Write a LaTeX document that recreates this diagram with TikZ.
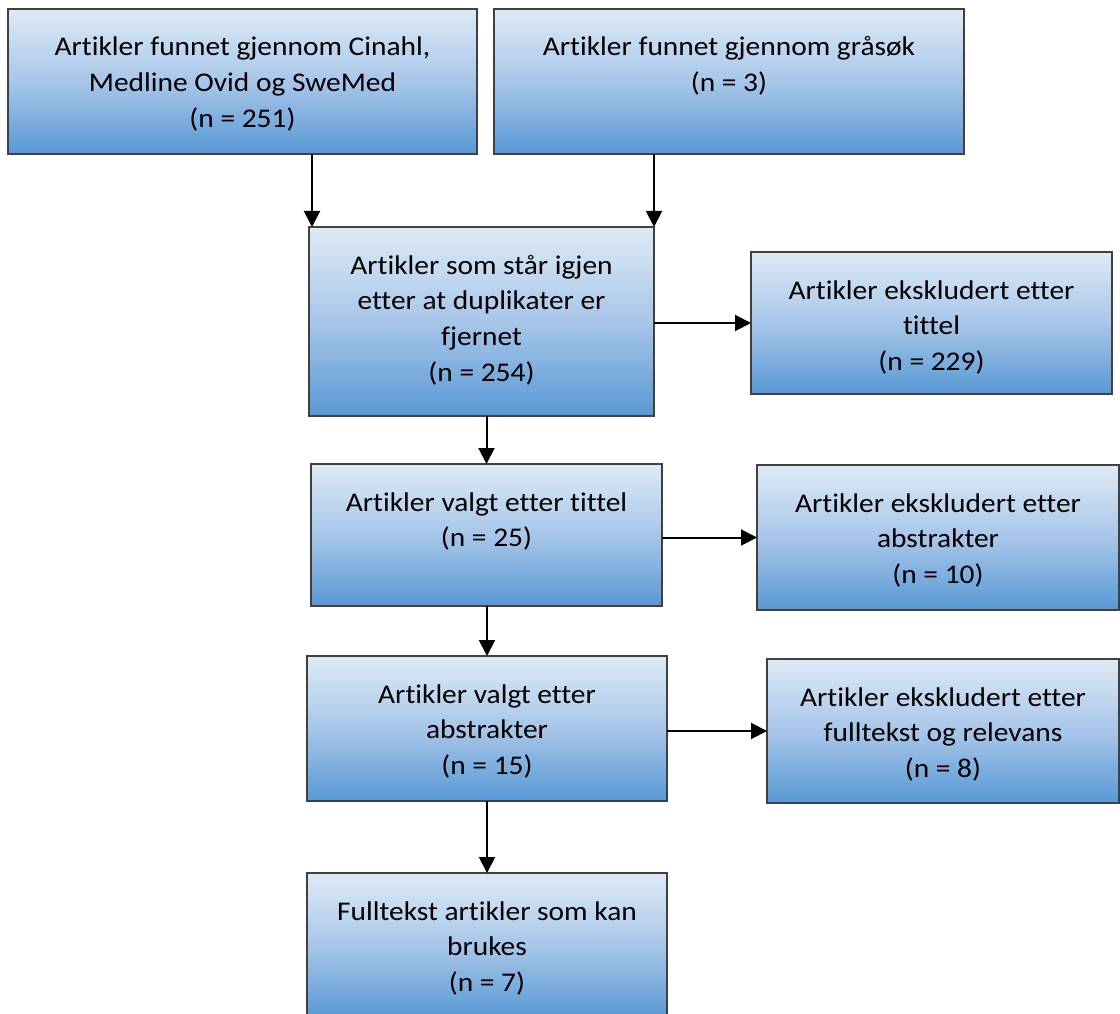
\documentclass[tikz,border=0pt]{standalone}
\usepackage{fontspec}
\setmainfont{Carlito}[Ligatures=NoCommon, FakeStretch=1.09]
\usetikzlibrary{arrows.meta}
\definecolor{boxtop}{RGB}{222,234,246}
\definecolor{boxmid}{RGB}{168,198,233}
\definecolor{boxbot}{RGB}{88,152,212}
\definecolor{boxline}{RGB}{64,64,64}
\newcommand{\boxtext}[3]{\parbox[c][#2][t]{#1}{\centering\rule{0pt}{47pt}#3\par}}
\begin{document}
\begin{tikzpicture}[x=1pt,y=-1pt,
  flowbox/.style={draw=boxline, line width=1.2pt, top color=boxtop, bottom color=boxbot, middle color=boxmid,
    inner sep=0pt, outer sep=0pt, font=\fontsize{27}{35.8}\selectfont},
  arr/.style={-{Triangle[length=16pt,width=16pt]}, line width=2pt, black}]
\useasboundingbox (0,0) rectangle (1120,1014);
\fill[white] (0,0) rectangle (1120,1014);
\clip (0,0) rectangle (1120,1014);

\node[flowbox] (B1) at (242.5,81.5) {\boxtext{469pt}{145pt}{Artikler funnet gjennom Cinahl,\\Medline Ovid og SweMed\\(n = 251)}};
\node[flowbox] (B2) at (729,81.5) {\boxtext{470pt}{145pt}{Artikler funnet gjennom gråsøk\\(n = 3)}};
\node[flowbox] (B3) at (481.5,321.5) {\boxtext{345pt}{189pt}{Artikler som står igjen\\etter at duplikater er\\fjernet\\(n = 254)}};
\node[flowbox] (B4) at (931.5,323) {\boxtext{361pt}{142pt}{Artikler ekskludert etter\\tittel\\(n = 229)}};
\node[flowbox] (B5) at (486.5,535) {\boxtext{351pt}{142pt}{Artikler valgt etter tittel\\(n = 25)}};
\node[flowbox] (B6) at (938,537.5) {\boxtext{362pt}{145pt}{Artikler ekskludert etter\\abstrakter\\(n = 10)}};
\node[flowbox] (B7) at (487,728.5) {\boxtext{360pt}{145pt}{Artikler valgt etter\\abstrakter\\(n = 15)}};
\node[flowbox] (B8) at (943,731) {\boxtext{352pt}{144pt}{Artikler ekskludert etter\\fulltekst og relevans\\(n = 8)}};
\node[flowbox] (B9) at (487,945.5) {\boxtext{360pt}{145pt}{Fulltekst artikler som kan\\brukes\\(n = 7)}};

\coordinate (c1) at (312,0);
\draw[arr] (B1.south -| c1) -- (B3.north -| c1);
\draw[arr] (B2.south -| B3.north east) -- (B3.north east);
\draw[arr] (B3.south -| B5.north) -- (B5.north);
\draw[arr] (B3.east |- B4.west) -- (B4.west);
\draw[arr] (B5.east |- B6.west) -- (B6.west);
\draw[arr] (B5.south -| B7.north) -- (B7.north);
\draw[arr] (B7.east |- B8.west) -- (B8.west);
\draw[arr] (B7.south) -- (B9.north);
\end{tikzpicture}
\end{document}
